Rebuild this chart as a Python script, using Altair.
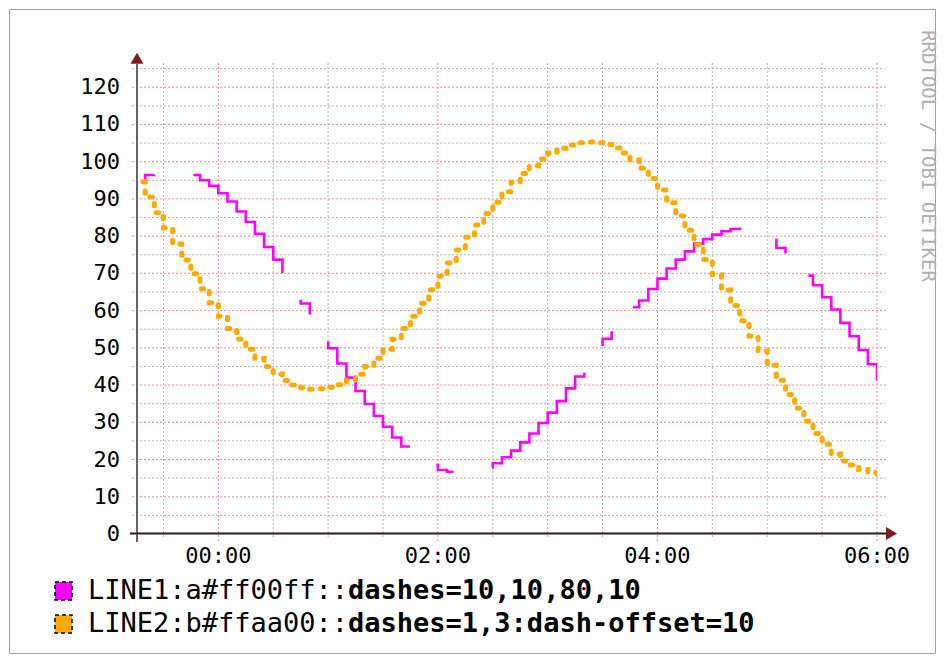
import altair as alt
import pandas as pd

# ---- data (5-minute steps, interval start in minutes from 00:00) ----
start_minutes = list(range(-45, 361, 5))

line_a = [95.1, 96.4, 96.9, 97.2, 97.2, 96.9, 96.4, 95.0, 93.5,
          91.5, 89.3, 86.6, 83.8, 80.6, 77.1, 73.7, 69.8, 65.8, 61.9, 57.8, 53.6,
          49.9, 45.8, 42.0, 38.4, 34.9, 31.7, 28.8, 25.9, 23.5, 21.4, 19.8, 18.5,
          17.2, 16.7, 16.4, 16.5, 16.9, 17.9, 19.0, 20.6, 22.4, 24.6, 27.0, 29.8,
          32.6, 35.7, 39.1, 42.3, 45.8, 49.3, 52.4, 55.3, 58.3, 60.9, 62.7, 65.8,
          68.6, 71.3, 73.7, 75.9, 78.0, 79.2, 80.4, 81.3, 81.9, 82.0, 81.7, 80.8,
          79.0, 76.8, 74.2, 71.8, 69.4, 66.8, 63.6, 60.3, 56.7, 53.1, 49.4, 45.6,
          41.6]

line_b = [94.6, 90.5, 86.3, 82.2, 77.9, 73.6, 69.9, 65.9, 62.1,
          58.5, 55.2, 52.3, 49.6, 47.2, 45.0, 43.0, 41.2, 40.0, 39.3, 38.9, 39.0,
          39.4, 40.1, 41.3, 42.9, 45.0, 47.2, 49.6, 52.3, 55.2, 58.5, 62.0, 65.6,
          69.2, 72.8, 76.3, 79.7, 83.0, 86.1, 89.1, 91.9, 94.5, 96.8, 98.9, 100.7,
          102.3, 103.6, 104.5, 105.1, 105.3, 105.1, 104.6, 103.7, 102.3, 100.5, 98.2, 95.5,
          92.4, 89.0, 85.4, 81.6, 77.7, 73.7, 69.6, 65.5, 61.4, 57.3, 53.2, 49.2,
          45.3, 41.3, 37.5, 33.8, 30.3, 27.0, 24.1, 21.5, 19.6, 18.5, 17.3, 16.5,
          16.2]

y_minor = [5, 15, 25, 35, 45, 55, 65, 75, 85, 95, 105, 115, 125]
y_major = [0, 10, 20, 30, 40, 50, 60, 70, 80, 90, 100, 110, 120]
x_minor_hours = [-0.5, 0.5, 1.0, 1.5, 2.5, 3.0, 3.5, 4.5, 5.0, 5.5]
x_major_hours = [0, 2, 4, 6]
x_major_labels = ["00:00", "02:00", "04:00", "06:00"]

legend_colors = ["#ff00ff", "#ffaa00"]
legend_plain = ["LINE1:a#ff00ff::", "LINE2:b#ffaa00::"]
legend_bold = ["dashes=10,10,80,10", "dashes=1,3:dash-offset=10"]
watermark = "RRDTOOL / TOBI OETIKER"

df = pd.DataFrame({
    "start_h": [m / 60 for m in start_minutes],
    "end_h": [(m + 5) / 60 for m in start_minutes],
    "a": line_a,
    "b": line_b,
})

W, H = 740, 471
MONO = "DejaVu Sans Mono"
RED_GRID = "#f08c8c"
GRAY_GRID = "#b4b4b4"
ARROW = "#7f1d1d"

xs = alt.Scale(domain=[-0.741, 6.0], nice=False, zero=False)
ys = alt.Scale(domain=[0, 126.5], nice=False, zero=False)

one = pd.DataFrame({"k": [0]})

frame = alt.Chart(one).mark_rect(fillOpacity=0, stroke="#a0a0a0", strokeWidth=1).encode(
    x=alt.value(-127.5), x2=alt.value(798.5), y=alt.value(-53.5), y2=alt.value(590.5)
)

# grid lines
vg_gray = alt.Chart(pd.DataFrame({"h": x_minor_hours})).mark_rule(
    color=GRAY_GRID, strokeDash=[2, 2], strokeWidth=1
).encode(x=alt.X("h:Q", scale=xs, axis=None), y=alt.value(0), y2=alt.value(H + 4))
vg_red = alt.Chart(pd.DataFrame({"h": x_major_hours})).mark_rule(
    color=RED_GRID, strokeDash=[2, 2], strokeWidth=1
).encode(x=alt.X("h:Q", scale=xs, axis=None), y=alt.value(0), y2=alt.value(H + 7))
hg_gray = alt.Chart(pd.DataFrame({"v": y_minor})).mark_rule(
    color=GRAY_GRID, strokeDash=[2, 2], strokeWidth=1
).encode(y=alt.Y("v:Q", scale=ys, axis=None), x=alt.value(-5), x2=alt.value(W + 8))
hg_red = alt.Chart(pd.DataFrame({"v": y_major[1:]})).mark_rule(
    color=RED_GRID, strokeDash=[2, 2], strokeWidth=1
).encode(y=alt.Y("v:Q", scale=ys, axis=None), x=alt.value(-5), x2=alt.value(W + 10))

# axis labels
x_lab = alt.Chart(pd.DataFrame({"h": x_major_hours, "t": x_major_labels})).mark_text(
    font=MONO, fontSize=22, color="#000000", align="center", baseline="top"
).encode(x=alt.X("h:Q", scale=xs, axis=None), y=alt.value(H + 12), text="t:N")
y_lab = alt.Chart(pd.DataFrame({"v": y_major})).mark_text(
    font=MONO, fontSize=22, color="#000000", align="right", baseline="middle", x=-17
).encode(y=alt.Y("v:Q", scale=ys, axis=None), text="v:Q")

magenta = alt.Chart(df).mark_line(
    color="#ff00ff", strokeWidth=2.6, strokeDash=[24, 45, 187, 45],
    strokeDashOffset=10, strokeCap="butt", interpolate="step-before", clip=True
).encode(
    x=alt.X("end_h:Q", scale=xs, axis=None),
    y=alt.Y("a:Q", scale=ys, axis=None),
)

orange = alt.Chart(df).mark_line(
    color="#ffaa00", strokeWidth=5, strokeDash=[2.5, 8.5],
    strokeDashOffset=4, strokeCap="round", interpolate="step-after", clip=True
).encode(
    x=alt.X("start_h:Q", scale=xs, axis=None),
    y=alt.Y("b:Q", scale=ys, axis=None),
)

y_rule = alt.Chart(one).mark_rule(color="#666666", strokeWidth=2).encode(
    x=alt.value(0), y=alt.value(1), y2=alt.value(479)
)
x_rule = alt.Chart(one).mark_rule(color="#2b1b1b", strokeWidth=2).encode(
    x=alt.value(-7), x2=alt.value(749), y=alt.value(470.5)
)
up_arrow = alt.Chart(one).mark_point(
    shape="M-1,0.85L1,0.85L0,-0.85Z", size=169, filled=True, color=ARROW, opacity=1, strokeWidth=0
).encode(x=alt.value(0), y=alt.value(-4.7))
right_arrow = alt.Chart(one).mark_point(
    shape="M-0.85,-1L0.85,0L-0.85,1Z", size=169, filled=True, color=ARROW, opacity=1, strokeWidth=0
).encode(x=alt.value(754.5), y=alt.value(470.5))

wm = alt.Chart(pd.DataFrame({"t": [watermark]})).mark_text(
    x=791, y=93, angle=90, align="center", baseline="middle",
    font=MONO, fontSize=19, color="#b0b0b0"
).encode(text="t:N")

legend_layers = []
row_y = [528, 561]
for i in range(2):
    sw = alt.Chart(one).mark_rect(
        fill=legend_colors[i], stroke="#000000", strokeWidth=1.5, strokeDash=[4, 3]
    ).encode(x=alt.value(-82), x2=alt.value(-65), y=alt.value(row_y[i] - 9), y2=alt.value(row_y[i] + 9))
    t1 = alt.Chart(pd.DataFrame({"t": [legend_plain[i]]})).mark_text(
        x=-49, y=row_y[i], align="left", baseline="middle", font=MONO, fontSize=27, color="#000000"
    ).encode(text="t:N")
    t2 = alt.Chart(pd.DataFrame({"t": [legend_bold[i]]})).mark_text(
        x=-49 + 16 * 0.602 * 27, y=row_y[i], align="left", baseline="middle", font=MONO,
        fontSize=27, fontWeight="bold", color="#000000"
    ).encode(text="t:N")
    legend_layers += [sw, t1, t2]

chart = alt.layer(
    frame, vg_gray, vg_red, hg_gray, hg_red, x_lab, y_lab,
    magenta, orange, y_rule, x_rule, up_arrow, right_arrow, wm, *legend_layers
).properties(
    width=W, height=H, padding={"left": 9, "top": 9, "right": 9, "bottom": 9}, background="white"
).configure_view(strokeOpacity=0)

chart.save("out.html", embed_options={"renderer": "svg", "actions": False})
